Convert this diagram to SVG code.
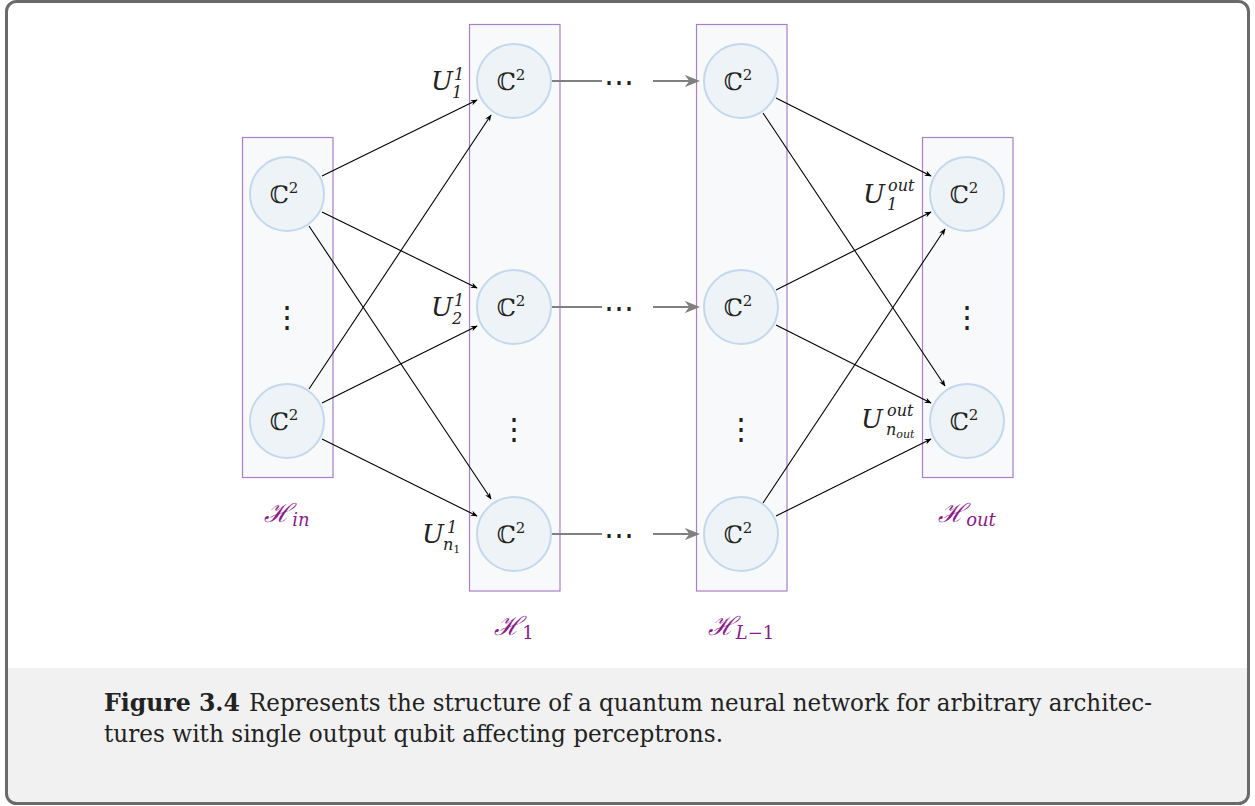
<svg xmlns="http://www.w3.org/2000/svg" width="1255" height="806" viewBox="0 0 1255 806">
<defs>
<style>
.layer{fill:#f7f9fb;stroke:#a97fc6;stroke-width:1.2}
.node{fill:#eef3f8;stroke:#c3d8ec;stroke-width:2}
.c2{font-size:24px;fill:#222;text-anchor:middle}
.sup{font-size:15px}
.edge{stroke:#000;stroke-width:1.1;fill:none;marker-end:url(#ah)}
.gray{stroke:#808080;stroke-width:2.2;fill:none}
.lbl{font-style:italic;font-size:26px;fill:#222}
.s{font-size:16px}
.hl{font-style:italic;font-size:26px;fill:#8a1c8a;text-anchor:middle}
.vd{font-size:30px;fill:#222;text-anchor:middle}
.hd{font-size:30px;fill:#222;text-anchor:middle}
.cap{font-size:25px;fill:#222}
</style>
<marker id="ah" viewBox="0 0 10 10" refX="9" refY="5" markerWidth="7" markerHeight="7" markerUnits="userSpaceOnUse" orient="auto"><path d="M0,1 L10,5 L0,9 L3,5 Z" fill="#000"/></marker>
<marker id="ahg" viewBox="0 0 10 10" refX="8" refY="5" markerWidth="7" markerHeight="7" orient="auto"><path d="M0,1 L10,5 L0,9 L3,5 Z" fill="#808080"/></marker>
</defs>
<rect x="0" y="0" width="1255" height="806" fill="#fff"/>
<rect x="7" y="668" width="1241" height="134" fill="#f1f1f1"/>
<rect x="6.5" y="1.5" width="1242" height="802" rx="10" fill="none" stroke="#6a6a6a" stroke-width="3"/>

<g font-family="DejaVu Serif, Liberation Serif, serif">
<g id="layer-in">
<rect class="layer" x="242.5" y="137.5" width="90.5" height="340"/>
<text class="vd" x="287" y="327">⋮</text>
<text class="hl" x="287" y="522">ℋ<tspan font-size="18" dy="4">in</tspan></text>
</g>
<g id="layer-1">
<rect class="layer" x="469.5" y="24.5" width="90.5" height="566.5"/>
<text class="vd" x="514" y="439">⋮</text>
<text class="hl" x="514" y="635">ℋ<tspan font-size="18" font-style="normal" dy="4">1</tspan></text>
</g>
<g id="layer-L1">
<rect class="layer" x="696.5" y="24.5" width="90.5" height="566.5"/>
<text class="vd" x="741" y="439">⋮</text>
<text class="hl" x="741" y="635">ℋ<tspan font-size="18" dy="4">L</tspan><tspan font-size="18" font-style="normal">−1</tspan></text>
</g>
<g id="layer-out">
<rect class="layer" x="922.5" y="137.5" width="90.5" height="340"/>
<text class="vd" x="967" y="327">⋮</text>
<text class="hl" x="967" y="522">ℋ<tspan font-size="18" dy="4">out</tspan></text>
</g>

<g id="connectors">
<line class="edge" x1="322" y1="176" x2="477" y2="100"/>
<line class="edge" x1="322" y1="212" x2="477" y2="288"/>
<line class="edge" x1="309" y1="226" x2="491" y2="499"/>
<line class="edge" x1="309" y1="389" x2="491" y2="115"/>
<line class="edge" x1="322" y1="403" x2="477" y2="326"/>
<line class="edge" x1="322" y1="439" x2="477" y2="516"/>
<line class="edge" x1="776" y1="98" x2="931" y2="176"/>
<line class="edge" x1="763" y1="113" x2="945" y2="386"/>
<line class="edge" x1="776" y1="290" x2="931" y2="212"/>
<line class="edge" x1="776" y1="325" x2="931" y2="403"/>
<line class="edge" x1="763" y1="503" x2="945" y2="229"/>
<line class="edge" x1="776" y1="516" x2="931" y2="439"/>
<line class="gray" x1="552" y1="81" x2="602" y2="81"/>
<line class="gray" x1="653" y1="81" x2="697" y2="81" marker-end="url(#ahg)"/>
<line class="gray" x1="552" y1="307" x2="602" y2="307"/>
<line class="gray" x1="653" y1="307" x2="697" y2="307" marker-end="url(#ahg)"/>
<line class="gray" x1="552" y1="534" x2="602" y2="534"/>
<line class="gray" x1="653" y1="534" x2="697" y2="534" marker-end="url(#ahg)"/>
<text class="hd" x="619" y="92">⋯</text>
<text class="hd" x="619" y="318">⋯</text>
<text class="hd" x="619" y="545">⋯</text>
</g>

<g id="n-in-1"><circle class="node" cx="287" cy="194" r="37"/><text class="c2" x="284" y="203">ℂ<tspan class="sup" dy="-10">2</tspan></text></g>
<g id="n-in-2"><circle class="node" cx="287" cy="421" r="37"/><text class="c2" x="284" y="430">ℂ<tspan class="sup" dy="-10">2</tspan></text></g>
<g id="n-1-1"><circle class="node" cx="514" cy="81" r="37"/><text class="c2" x="511" y="90">ℂ<tspan class="sup" dy="-10">2</tspan></text></g>
<g id="n-1-2"><circle class="node" cx="514" cy="307" r="37"/><text class="c2" x="511" y="316">ℂ<tspan class="sup" dy="-10">2</tspan></text></g>
<g id="n-1-3"><circle class="node" cx="514" cy="534" r="37"/><text class="c2" x="511" y="543">ℂ<tspan class="sup" dy="-10">2</tspan></text></g>
<g id="n-L-1"><circle class="node" cx="741" cy="81" r="37"/><text class="c2" x="738" y="90">ℂ<tspan class="sup" dy="-10">2</tspan></text></g>
<g id="n-L-2"><circle class="node" cx="741" cy="307" r="37"/><text class="c2" x="738" y="316">ℂ<tspan class="sup" dy="-10">2</tspan></text></g>
<g id="n-L-3"><circle class="node" cx="741" cy="534" r="37"/><text class="c2" x="738" y="543">ℂ<tspan class="sup" dy="-10">2</tspan></text></g>
<g id="n-out-1"><circle class="node" cx="967" cy="194" r="37"/><text class="c2" x="964" y="203">ℂ<tspan class="sup" dy="-10">2</tspan></text></g>
<g id="n-out-2"><circle class="node" cx="967" cy="421" r="37"/><text class="c2" x="964" y="430">ℂ<tspan class="sup" dy="-10">2</tspan></text></g>

<g id="unit-labels">
<text class="lbl" x="431" y="90">U</text><text class="lbl s" font-style="normal" x="454" y="80">1</text><text class="lbl s" font-style="normal" x="452" y="98">1</text>
<text class="lbl" x="431" y="316">U</text><text class="lbl s" font-style="normal" x="454" y="306">1</text><text class="lbl s" font-style="normal" x="452" y="324">2</text>
<text class="lbl" x="422" y="543">U</text><text class="lbl s" font-style="normal" x="447" y="533">1</text><text class="lbl s" x="443" y="550">n<tspan font-size="11" font-style="normal" dy="3">1</tspan></text>
<text class="lbl" x="863" y="203">U</text><text class="lbl s" x="888" y="191" font-size="15">out</text><text class="lbl s" font-style="normal" x="887" y="210">1</text>
<text class="lbl" x="861" y="428">U</text><text class="lbl s" x="887" y="416" font-size="15">out</text><text class="lbl s" x="886" y="435" font-size="15">n<tspan font-size="11" dy="3">out</tspan></text>
</g>

<g id="caption">
<text class="cap" x="104" y="711"><tspan font-weight="bold" textLength="136" lengthAdjust="spacingAndGlyphs">Figure 3.4</tspan><tspan x="249" textLength="903" lengthAdjust="spacingAndGlyphs">Represents the structure of a quantum neural network for arbitrary architec-</tspan></text>
<text class="cap" x="104" y="742" textLength="619" lengthAdjust="spacingAndGlyphs">tures with single output qubit affecting perceptrons.</text>
</g>
</g>
</svg>
